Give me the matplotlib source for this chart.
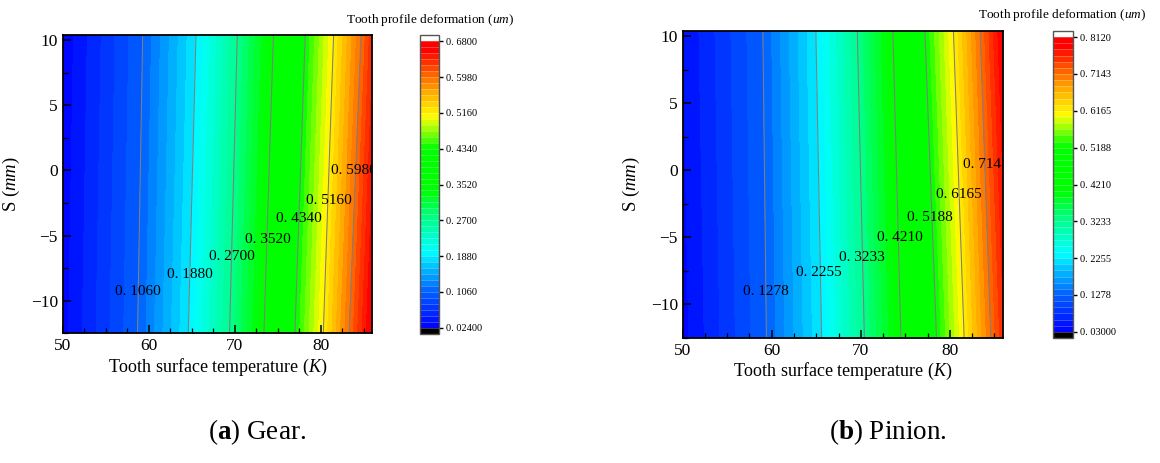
import matplotlib
matplotlib.use("Agg")
import matplotlib.pyplot as plt
from matplotlib.colors import LinearSegmentedColormap
import numpy as np

plt.rcParams.update(
    {
        "font.family": "Liberation Serif",
        "mathtext.fontset": "custom",
        "mathtext.rm": "Liberation Serif",
        "mathtext.it": "Liberation Serif:italic",
        "mathtext.bf": "Liberation Serif:bold",
        "axes.linewidth": 1.3,
    }
)

# ---- data ----
# temperature range of both panels and S range (mm)
T_RANGE = [50, 86]
S_RANGE = [-12.5, 10.4]

# (a) gear: labelled contour levels and where each crosses bottom/top of the plot
gear_levels = [0.106, 0.188, 0.270, 0.352, 0.434, 0.516, 0.598]
gear_T_bottom = [58.7, 64.6, 69.4, 73.4, 77.0, 80.3, 83.3]
gear_T_top = [59.3, 65.5, 70.3, 74.5, 78.2, 81.5, 84.7]
gear_edge_bottom = [0.032, 0.672]   # value at T=50 / T=86, S=-12.5
gear_edge_top = [0.027, 0.635]      # value at T=50 / T=86, S=top
gear_cbar_ticks = [0.024, 0.106, 0.188, 0.270, 0.352, 0.434, 0.516, 0.598, 0.680]
gear_cbar_labels = ["0. 02400", "0. 1060", "0. 1880", "0. 2700", "0. 3520",
                    "0. 4340", "0. 5160", "0. 5980", "0. 6800"]
gear_clabels = ["0. 1060", "0. 1880", "0. 2700", "0. 3520", "0. 4340", "0. 5160", "0. 5980"]
gear_clabel_T = [58.7, 64.8, 69.65, 73.8, 77.5, 80.9, 83.8]
gear_clabel_S = [-9.3, -8.0, -6.6, -5.3, -3.7, -2.3, 0.0]

# (b) pinion
pinion_levels = [0.1278, 0.2255, 0.3233, 0.4210, 0.5188, 0.6165, 0.7143]
pinion_T_bottom = [59.4, 65.6, 70.4, 74.5, 78.5, 81.6, 84.6]
pinion_T_top = [59.0, 64.95, 69.6, 73.6, 77.2, 80.4, 83.4]
pinion_edge_bottom = [0.040, 0.760]
pinion_edge_top = [0.046, 0.800]
pinion_cbar_ticks = [0.030, 0.1278, 0.2255, 0.3233, 0.4210, 0.5188, 0.6165, 0.7143, 0.8120]
pinion_cbar_labels = ["0. 03000", "0. 1278", "0. 2255", "0. 3233", "0. 4210",
                      "0. 5188", "0. 6165", "0. 7143", "0. 8120"]
pinion_clabels = ["0. 1278", "0. 2255", "0. 3233", "0. 4210", "0. 5188", "0. 6165", "0. 7143"]
pinion_clabel_T = [59.3, 65.25, 70.1, 74.4, 77.8, 81.0, 84.0]
pinion_clabel_S = [-9.05, -7.67, -6.5, -5.0, -3.55, -1.85, 0.45]

N_BANDS = 48

# Tecplot-ish rainbow with a flat green plateau
cmap = LinearSegmentedColormap.from_list(
    "tec",
    [
        (0.00, "#0000ff"),
        (0.13, "#0064ff"),
        (0.265, "#00ffff"),
        (0.37, "#00ff96"),
        (0.48, "#00ff00"),
        (0.63, "#00ff00"),
        (0.735, "#ffff00"),
        (0.83, "#ffa500"),
        (0.97, "#ff0000"),
        (1.00, "#ff0000"),
    ],
)
cmap.set_under("black")
cmap.set_over("white")

W, H = 1160, 463


def panel(ax, cax, levels, Tb, Tt, eb, et, cticks, clabels, lab, labT, labS, title_xy):
    X = np.array([[T_RANGE[0]] + Tb + [T_RANGE[1]],
                  [T_RANGE[0]] + Tt + [T_RANGE[1]]])
    Y = np.array([[S_RANGE[0]] * X.shape[1], [S_RANGE[1]] * X.shape[1]])
    Z = np.array([[eb[0]] + levels + [eb[1]],
                  [et[0]] + levels + [et[1]]])
    bands = np.linspace(cticks[0], cticks[-1], N_BANDS + 1)
    cf = ax.contourf(X, Y, Z, levels=bands, cmap=cmap, extend="both")
    ax.contour(X, Y, Z, levels=levels, colors="#7f7f7f", linewidths=0.75)
    for s, t, y in zip(lab, labT, labS):
        ax.text(t, y, s, fontsize=11, ha="center", va="center", clip_on=True)

    ax.set_xlim(T_RANGE)
    ax.set_ylim(S_RANGE)
    ax.set_xticks([50, 60, 70, 80])
    ax.set_yticks([-10, -5, 0, 5, 10])
    ax.set_xticks(np.arange(52.5, 86, 2.5), minor=True)
    ax.set_yticks(np.arange(-12.5, 10.5, 2.5), minor=True)
    ax.tick_params(which="major", direction="in", length=6, width=1.1, labelsize=12.5,
                   top=False, right=False)
    ax.tick_params(which="minor", direction="in", length=3.5, width=0.9,
                   top=False, right=False)
    ax.set_xlabel("Tooth surface temperature ($K$)", fontsize=13, labelpad=2)
    ax.set_ylabel("S ($mm$)", fontsize=13.5, labelpad=6)

    cb = plt.colorbar(cf, cax=cax, extendrect=True, extendfrac=0.022, drawedges=True)
    cb.dividers.set_color("white")
    cb.dividers.set_alpha(0.35)
    cb.dividers.set_linewidth(0.5)
    cb.outline.set_edgecolor("#555555")
    cb.outline.set_linewidth(1.0)
    cb.set_ticks(cticks)
    cb.set_ticklabels(clabels)
    cax.tick_params(direction="out", length=3, width=1, labelsize=7.5, pad=2)
    cax.minorticks_off()
    fig.text(title_xy[0] / W, 1 - title_xy[1] / H, "Tooth profile deformation ($um$)",
             ha="center", va="center", fontsize=9.5)


fig = plt.figure(figsize=(11.6, 4.63), dpi=100)


def rect(x0, y0, x1, y1):
    return [x0 / W, 1 - y1 / H, (x1 - x0) / W, (y1 - y0) / H]


ax1 = fig.add_axes(rect(62.7, 35, 372.3, 333.3))
cax1 = fig.add_axes(rect(420, 35, 439.3, 334))
ax2 = fig.add_axes(rect(682.7, 30.7, 1003.3, 337.7))
cax2 = fig.add_axes(rect(1052.7, 30.7, 1072.7, 338.3))

panel(ax1, cax1, gear_levels, gear_T_bottom, gear_T_top, gear_edge_bottom, gear_edge_top,
      gear_cbar_ticks, gear_cbar_labels, gear_clabels, gear_clabel_T, gear_clabel_S,
      (430, 20))
panel(ax2, cax2, pinion_levels, pinion_T_bottom, pinion_T_top, pinion_edge_bottom,
      pinion_edge_top, pinion_cbar_ticks, pinion_cbar_labels, pinion_clabels,
      pinion_clabel_T, pinion_clabel_S, (1062, 15))

fig.text(257 / W, 1 - 432 / H, r"($\mathbf{a}$) Gear.", ha="center", va="center", fontsize=19.5)
fig.text(888 / W, 1 - 432 / H, r"($\mathbf{b}$) Pinion.", ha="center", va="center", fontsize=19.5)

fig.savefig("out.png", dpi=100)
